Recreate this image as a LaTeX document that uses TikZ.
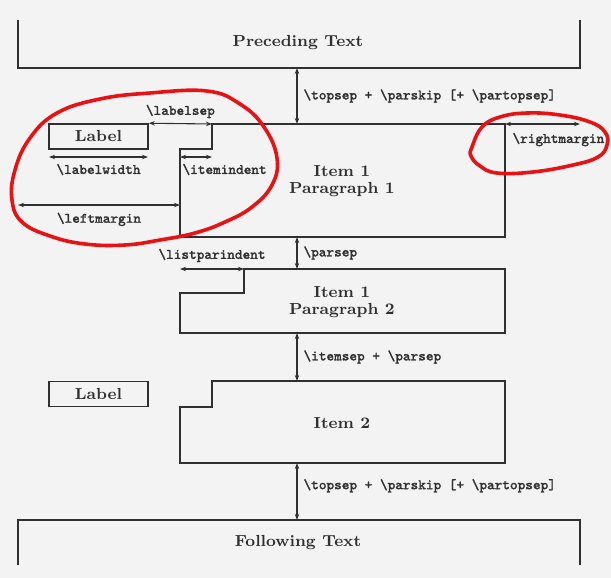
\documentclass[tikz,border=0pt]{standalone}
\usepackage{fontspec}
\usepackage{tikz}
\usetikzlibrary{arrows.meta}
\newfontfamily\paramfont{Latin Modern Mono}[FakeBold=1.6]
\definecolor{ink}{RGB}{48,48,48}
\definecolor{paper}{RGB}{243,243,243}
\definecolor{pen}{RGB}{232,18,20}
\tikzset{every edge/.style={draw, ink, line width=0.55pt}}
\newcommand{\param}[1]{\textbackslash#1}

\begin{document}
\begin{tikzpicture}[x=0.5pt, y=-0.5pt, >={Stealth[length=3pt,width=2.2pt]},
  every node/.style={text=ink, inner sep=1pt},
  box/.style={draw=ink, line width=0.75pt},
  title/.style={font=\fontsize{8}{8.8}\selectfont\bfseries, align=center},
  param/.style={font=\fontsize{7.2}{8.5}\selectfont\paramfont\bfseries},
  labelbox/.style={box, minimum width=49.5pt, minimum height=12.5pt, inner sep=0pt, font=\fontsize{8}{9.5}\selectfont\bfseries}]
  \useasboundingbox (0,0) rectangle (611,578);
  \fill[paper] (0,0) rectangle (611,578);

  % preceding text
  \draw[box] (18,20) -- (18,68) -- (580,68) -- (580,20);
  \node[title] at (298,43) (prec) {Preceding Text};
  \coordinate (p1) at (297,68);

  % first item, first paragraph
  \draw[box] (212,124) coordinate (i1a) -- (505,124) coordinate (i1b) -- (505,237) -- (180,237) -- (180,149) -- (212,149) -- cycle;
  \node[title] at (342,181) (i1txt) {Item 1\\Paragraph 1};
  \node[labelbox] at (98.5,136.5) (lab1) {Label};
  \coordinate (p2) at (297,124);
  \coordinate (rm) at (580,124);
  \coordinate (lw1) at (49,157);
  \coordinate (lw2) at (148,157);
  \coordinate (ii1) at (180,157);
  \coordinate (ii2) at (212,157);
  \coordinate (lm1) at (18,205);
  \coordinate (lm2) at (180,205);

  \draw (p1) edge[<->] node[param, right=2pt] {\param{topsep} + \param{parskip} [+ \param{partopsep}]} (p2);
  \draw (lab1.north east) edge[<->] node[param, above=1.5pt] {\param{labelsep}} (i1a);
  \draw (i1b) edge[<->] node[param, pos=0, anchor=north west, xshift=2.5pt, yshift=-3.2pt] {\param{rightmargin}} (rm);
  \draw (lw1) edge[<->] node[param, below=2.2pt] {\param{labelwidth}} (lw2);
  \draw (ii1) edge[<->] node[param, pos=0, anchor=north west, yshift=-2.2pt] {\param{itemindent}} (ii2);
  \draw (lm1) edge[<->] node[param, below=2.6pt] {\param{leftmargin}} (lm2);

  % first item, second paragraph
  \draw[box] (244,269) coordinate (i2a) -- (505,269) -- (505,333) -- (180,333) -- (180,293) -- (244,293) -- cycle;
  \node[title] at (342,302) (i2txt) {Item 1\\Paragraph 2};
  \coordinate (ps1) at (297,237);
  \coordinate (ps2) at (297,269);
  \coordinate (lp1) at (180,269);
  \draw (ps1) edge[<->] node[param, right=2pt] {\param{parsep}} (ps2);
  \draw (lp1) edge[<->] node[param, above=2.2pt] {\param{listparindent}} (i2a);

  % second item
  \draw[box] (212,381) -- (505,381) -- (505,463) -- (180,463) -- (180,407) -- (212,407) -- cycle;
  \node[title] at (342,423) (i3txt) {Item 2};
  \node[labelbox] at (98.5,394) (lab2) {Label};
  \coordinate (is1) at (297,333);
  \coordinate (is2) at (297,381);
  \draw (is1) edge[<->] node[param, right=2pt] {\param{itemsep} + \param{parsep}} (is2);

  % following text
  \draw[box] (18,565) -- (18,520) -- (580,520) -- (580,565);
  \node[title] at (298,543) (foll) {Following Text};
  \coordinate (f1) at (297,463);
  \coordinate (f2) at (297,520);
  \draw (f1) edge[<->] node[param, right=2pt, pos=0.4] {\param{topsep} + \param{parskip} [+ \param{partopsep}]} (f2);

  % red marks
  \draw[pen, line width=1.8pt, line cap=round] plot[smooth cycle, tension=0.7] coordinates {
    (150,93) (207,91) (240,104) (264,127) (277,158) (272,185) (252,207) (225,222) (195,233) (160,240)
    (125,245) (85,244) (50,236) (22,222) (12,200) (15,170) (30,138) (57,113) (100,99)};
  \draw[pen, line width=1.8pt, line cap=round] plot[smooth cycle, tension=0.7] coordinates {
    (472,147) (482,127) (500,117) (527,113) (560,115) (590,122) (605,132) (607,145) (598,157)
    (573,165) (533,172) (497,173) (480,166) (471,156)};
\end{tikzpicture}
\end{document}
